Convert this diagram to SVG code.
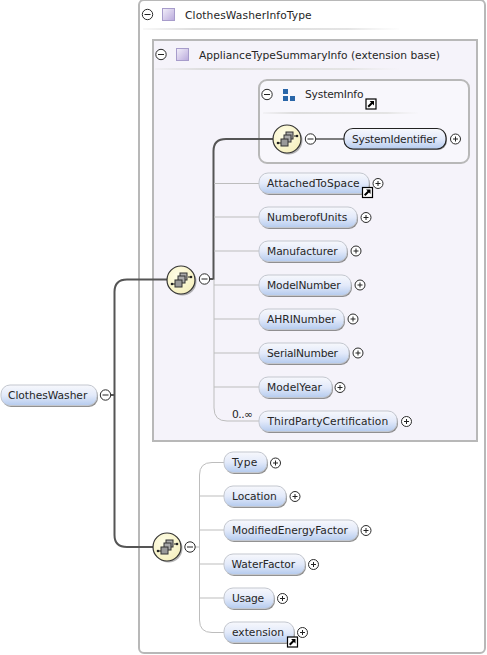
<svg xmlns="http://www.w3.org/2000/svg" width="487" height="655" viewBox="0 0 487 655">
<style>
text{font-family:"DejaVu Sans","Liberation Sans",sans-serif;font-size:10.7px;fill:#262626}
.pill{fill:url(#pg);stroke:#c3c7cf;stroke-width:1}
.pillx{fill:url(#pg);stroke:#222;stroke-width:1.1}
.sh{fill:#777;opacity:.8;filter:url(#soft)}
.thin{fill:none;stroke:#bdbdbd;stroke-width:1}
.thick{fill:none;stroke:#555;stroke-width:2}
.box{stroke:#b8b8b8;stroke-width:2}
.tog{fill:#fff;stroke:#2a2a2a;stroke-width:1}
</style>
<defs>
<filter id="soft" x="-10%" y="-20%" width="120%" height="140%"><feGaussianBlur stdDeviation=".6"/></filter>
<linearGradient id="pg" x1="0" y1="0" x2="0" y2="1"><stop offset="0" stop-color="#f7f8fc"/><stop offset=".5" stop-color="#e3eafa"/><stop offset="1" stop-color="#b5cbee"/></linearGradient>
<linearGradient id="sq" x1="0" y1="0" x2="1" y2="1"><stop offset="0" stop-color="#f3f0fa"/><stop offset="1" stop-color="#b9a9dc"/></linearGradient>
<linearGradient id="ul" x1="0" y1="0" x2="1" y2="0"><stop offset="0" stop-color="#ddd" stop-opacity=".2"/><stop offset=".2" stop-color="#ddd"/><stop offset=".8" stop-color="#e4e4e4"/><stop offset="1" stop-color="#eee" stop-opacity=".1"/></linearGradient>
<radialGradient id="seq" cx=".4" cy=".35" r=".7"><stop offset="0" stop-color="#fffee8"/><stop offset="1" stop-color="#f5efbd"/></radialGradient>
<g id="minus"><circle r="5.2" class="tog"/><path d="M-3 0H3" stroke="#222" stroke-width="1"/></g>
<g id="plus"><circle r="5" class="tog"/><path d="M-2.5 0H2.5M0 -2.5V2.500" stroke="#222" stroke-width="1"/></g>
<g id="link"><rect x="0" y="0" width="10" height="10" fill="#fff" stroke="#000" stroke-width="1.2"/><path d="M2.2 7.8L6.5 3.500" stroke="#000" stroke-width="2"/><path d="M3.600 2H8V6.400Z" fill="#000"/></g>
<g id="square"><rect x=".5" y=".5" width="12" height="12" fill="url(#sq)" stroke="#a79ccb" stroke-width="1"/></g>
<g id="seqi"><circle cx="1.500" cy="1.500" r="14" fill="#777" opacity=".55" filter="url(#soft)"/><circle r="14" fill="url(#seq)" stroke="#333" stroke-width="1.2"/>
<path d="M-9 4H-5M7 -3H11" stroke="#222" stroke-width="1"/><circle cx="-9" cy="4" r="1.300" fill="#222"/><circle cx="10" cy="-3" r="1.300" fill="#222"/>
<rect x="-1" y="-7" width="7" height="7" fill="#aaa" stroke="#333"/><rect x="-3" y="-4" width="7" height="7" fill="#aaa" stroke="#333"/><rect x="-6" y="0" width="7" height="7" fill="#999" stroke="#333"/></g>
</defs>

<g id="outer-type">
<rect x="139" y="0" width="346" height="653" rx="5" fill="#fff" class="box"/>
<use href="#minus" x="147.500" y="14.500"/>
<use href="#square" x="162" y="8"/>
<text x="185" y="18.500" textLength="126.700" lengthAdjust="spacing">ClothesWasherInfoType</text>
<rect x="143" y="28" width="256" height="2" fill="url(#ul)"/>
</g>
<g id="extension-base">
<rect x="153" y="40" width="324" height="401" fill="#f5f3fa" class="box"/>
<use href="#minus" x="161" y="54.500"/>
<use href="#square" x="176" y="48"/>
<text x="199" y="58.500" textLength="241" lengthAdjust="spacing">ApplianceTypeSummaryInfo (extension base)</text>
<rect x="155" y="68" width="244" height="2" fill="url(#ul)"/>
</g>
<g id="system-info">
<rect x="259" y="80" width="210" height="83" rx="8" fill="#f8f7fc" class="box"/>
<use href="#minus" x="267" y="94.500"/>
<path d="M283 89h5v5h-5zM283 96h5v5h-5zM290 96h5v5h-5z" fill="#2a66a8"/>
<text x="305" y="97.500" textLength="58.500" lengthAdjust="spacing">SystemInfo</text>
<use href="#link" x="366" y="99"/>
<rect x="263" y="112" width="155" height="2" fill="url(#ul)"/>
</g>

<g id="connectors">
<path class="thick" d="M111 395H114.500M167 279.500H127Q114.500 279.500 114.500 292V535Q114.500 547 127 547H153"/>
<path class="thick" d="M210 279H213.500V151Q213.500 139 226 139H273"/>
<path d="M316 139H344" stroke="#555" stroke-width="1.500" fill="none"/>
<path class="thin" d="M214 183.500H259M214 217H259M214 251H259M214 285H259M214 319H259M214 353H259M214 387H259M214 279V408Q214 421 227 421H259"/>
<path class="thin" d="M224 462.500H212Q199.500 462.500 199.500 475V620Q199.500 632.500 212 632.500H224M199.500 496H224M199.500 530H224M199.500 564H224M199.500 598H224M195 547H199.500"/>
</g>

<g id="n-clotheswasher"><rect class="sh" x="2" y="386.500" width="96" height="20.500" rx="9"/><rect class="pill" x="1" y="385" width="96" height="20.500" rx="9"/><text x="8" y="399" textLength="79.300" lengthAdjust="spacing">ClothesWasher</text><use href="#minus" x="105.500" y="395"/></g>
<g id="n-seq1"><use href="#seqi" x="181" y="280"/><use href="#minus" x="204.500" y="279"/></g>
<g id="n-seq2"><use href="#seqi" x="167" y="547"/><use href="#minus" x="190" y="547"/></g>
<g id="n-seq3"><use href="#seqi" x="287" y="139"/><use href="#minus" x="310.500" y="139"/></g>

<g id="n-systemidentifier"><rect class="sh" x="345" y="129.500" width="102" height="20.500" rx="9"/><rect class="pillx" x="344" y="128.500" width="102" height="20.500" rx="9"/><text x="352" y="142.500" textLength="85" lengthAdjust="spacing">SystemIdentifier</text><use href="#plus" x="455.500" y="139"/></g>
<g id="n-attachedtospace"><rect class="sh" x="260" y="174.500" width="110" height="20.500" rx="9"/><rect class="pill" x="259" y="173" width="110" height="20.500" rx="9"/><text x="267" y="187" textLength="92.700" lengthAdjust="spacing">AttachedToSpace</text><use href="#plus" x="378" y="183.500"/><use href="#link" x="362.500" y="187.500"/></g>
<g id="n-numberofunits"><rect class="sh" x="260" y="208.500" width="98" height="20.500" rx="9"/><rect class="pill" x="259" y="207" width="98" height="20.500" rx="9"/><text x="267" y="221" textLength="80.300" lengthAdjust="spacing">NumberofUnits</text><use href="#plus" x="366" y="217.500"/></g>
<g id="n-manufacturer"><rect class="sh" x="260" y="242.500" width="88" height="20.500" rx="9"/><rect class="pill" x="259" y="241" width="88" height="20.500" rx="9"/><text x="267" y="255" textLength="70.700" lengthAdjust="spacing">Manufacturer</text><use href="#plus" x="356" y="251"/></g>
<g id="n-modelnumber"><rect class="sh" x="260" y="276.500" width="92" height="20.500" rx="9"/><rect class="pill" x="259" y="275" width="92" height="20.500" rx="9"/><text x="267" y="289" textLength="73.700" lengthAdjust="spacing">ModelNumber</text><use href="#plus" x="360" y="285"/></g>
<g id="n-ahrinumber"><rect class="sh" x="260" y="310.500" width="85" height="20.500" rx="9"/><rect class="pill" x="259" y="309" width="85" height="20.500" rx="9"/><text x="267" y="323" textLength="68.700" lengthAdjust="spacing">AHRINumber</text><use href="#plus" x="353" y="319"/></g>
<g id="n-serialnumber"><rect class="sh" x="260" y="344.500" width="90" height="20.500" rx="9"/><rect class="pill" x="259" y="343" width="90" height="20.500" rx="9"/><text x="267" y="357" textLength="71" lengthAdjust="spacing">SerialNumber</text><use href="#plus" x="358" y="353"/></g>
<g id="n-modelyear"><rect class="sh" x="260" y="378.500" width="73" height="20.500" rx="9"/><rect class="pill" x="259" y="377" width="73" height="20.500" rx="9"/><text x="267" y="391" textLength="55" lengthAdjust="spacing">ModelYear</text><use href="#plus" x="340" y="387.500"/></g>
<g id="n-thirdparty"><text x="232" y="418" textLength="21" lengthAdjust="spacing">0..∞</text><rect class="sh" x="260" y="412.500" width="138" height="20.500" rx="9"/><rect class="pill" x="259" y="411" width="138" height="20.500" rx="9"/><text x="267.500" y="425" textLength="120.700" lengthAdjust="spacing">ThirdPartyCertification</text><use href="#plus" x="406.500" y="421.500"/></g>

<g id="n-type"><rect class="sh" x="225" y="453.500" width="43" height="20.500" rx="9"/><rect class="pill" x="224" y="452" width="43" height="20.500" rx="9"/><text x="232" y="466" textLength="25.300" lengthAdjust="spacing">Type</text><use href="#plus" x="275.500" y="463"/></g>
<g id="n-location"><rect class="sh" x="225" y="487.500" width="62" height="20.500" rx="9"/><rect class="pill" x="224" y="486" width="62" height="20.500" rx="9"/><text x="232" y="500" textLength="44.700" lengthAdjust="spacing">Location</text><use href="#plus" x="295" y="496.500"/></g>
<g id="n-mef"><rect class="sh" x="225" y="521.500" width="134" height="20.500" rx="9"/><rect class="pill" x="224" y="520" width="134" height="20.500" rx="9"/><text x="232" y="534" textLength="116" lengthAdjust="spacing">ModifiedEnergyFactor</text><use href="#plus" x="366" y="530.500"/></g>
<g id="n-waterfactor"><rect class="sh" x="225" y="555.500" width="81" height="20.500" rx="9"/><rect class="pill" x="224" y="554" width="81" height="20.500" rx="9"/><text x="231.500" y="568" textLength="63.700" lengthAdjust="spacing">WaterFactor</text><use href="#plus" x="313.500" y="564.500"/></g>
<g id="n-usage"><rect class="sh" x="225" y="589.500" width="50" height="20.500" rx="9"/><rect class="pill" x="224" y="588" width="50" height="20.500" rx="9"/><text x="232" y="602" textLength="32" lengthAdjust="spacing">Usage</text><use href="#plus" x="282.500" y="598.500"/></g>
<g id="n-extension"><rect class="sh" x="225" y="623.500" width="70" height="20.500" rx="9"/><rect class="pill" x="224" y="622" width="70" height="20.500" rx="9"/><text x="232" y="636" textLength="52" lengthAdjust="spacing">extension</text><use href="#plus" x="302.500" y="632.500"/><use href="#link" x="287.500" y="637"/></g>
</svg>
